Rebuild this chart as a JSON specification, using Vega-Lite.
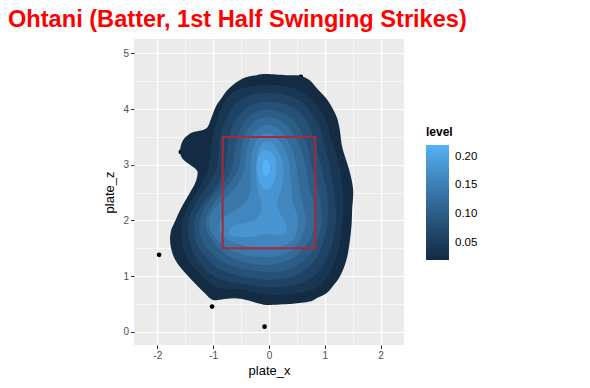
{
"$schema": "https://vega.github.io/schema/vega-lite/v6.json",
"width": 270, "height": 306,
"autosize": "none",
"padding": {"left": 134, "top": 39, "right": 186, "bottom": 43},
"background": "white",
"view": {"fill": "#EBEBEB", "stroke": null},
"title": {"text": "Ohtani (Batter, 1st Half Swinging Strikes)", "color": "red", "font": "Liberation Sans", "fontSize": 23.6, "fontWeight": "bold", "anchor": "start", "frame": "group", "dx": -126, "baseline": "alphabetic", "offset": -12},
"config": {
  "axis": {"domain": false, "grid": true, "gridColor": "white", "labelFont": "Liberation Sans", "labelFontSize": 10, "labelColor": "#4D4D4D", "tickColor": "#333333", "tickSize": 3.5, "labelPadding": 2, "titleFont": "Liberation Sans", "titleFontSize": 13, "titleFontWeight": "normal", "titleColor": "black"}
},
"encoding": {
  "x": {"field": "x", "type": "quantitative", "title": "plate_x", "scale": {"domain": [-2.42, 2.42], "nice": false, "zero": false},
        "axis": {"values": [-2,-1.5,-1,-0.5,0,0.5,1,1.5,2], "labelExpr": "datum.value % 1 === 0 ? toString(datum.value) : ''", "gridWidth": {"condition": {"test": "datum.value % 1 !== 0", "value": 0.6}, "value": 1.2}, "tickOpacity": {"condition": {"test": "datum.value % 1 !== 0", "value": 0}, "value": 1}, "titlePadding": 4}},
  "y": {"field": "y", "type": "quantitative", "title": "plate_z", "scale": {"domain": [-0.24, 5.26], "nice": false, "zero": false},
        "axis": {"values": [0,0.5,1,1.5,2,2.5,3,3.5,4,4.5,5], "labelExpr": "datum.value % 1 === 0 ? toString(datum.value) : ''", "gridWidth": {"condition": {"test": "datum.value % 1 !== 0", "value": 0.6}, "value": 1.2}, "tickOpacity": {"condition": {"test": "datum.value % 1 !== 0", "value": 0}, "value": 1}, "titlePadding": 6}}
},
"layer": [
  {
    "data": {"values": [
      {"x": 0.57, "y": 4.58}, {"x": -1.58, "y": 3.23}, {"x": -1.97, "y": 1.38}, {"x": -1.02, "y": 0.45}, {"x": -0.08, "y": 0.09}
    ]},
    "mark": {"type": "point", "filled": true, "color": "black", "size": 22, "opacity": 1}
  },
  {
    "data": {"values": [
{"p":1,"level":0.02,"x":-0.05,"y":4.63},{"p":1,"level":0.02,"x":0.31,"y":4.61},{"p":1,"level":0.02,"x":0.55,"y":4.60},{"p":1,"level":0.02,"x":0.73,"y":4.52},{"p":1,"level":0.02,"x":0.87,"y":4.36},{"p":1,"level":0.02,"x":1.02,"y":4.20},{"p":1,"level":0.02,"x":1.13,"y":4.03},{"p":1,"level":0.02,"x":1.22,"y":3.84},{"p":1,"level":0.02,"x":1.27,"y":3.62},{"p":1,"level":0.02,"x":1.31,"y":3.33},{"p":1,"level":0.02,"x":1.40,"y":3.03},{"p":1,"level":0.02,"x":1.47,"y":2.78},{"p":1,"level":0.02,"x":1.51,"y":2.51},{"p":1,"level":0.02,"x":1.49,"y":2.19},{"p":1,"level":0.02,"x":1.48,"y":1.92},{"p":1,"level":0.02,"x":1.44,"y":1.56},{"p":1,"level":0.02,"x":1.38,"y":1.26},{"p":1,"level":0.02,"x":1.27,"y":0.99},{"p":1,"level":0.02,"x":1.14,"y":0.81},{"p":1,"level":0.02,"x":1.03,"y":0.69},{"p":1,"level":0.02,"x":0.87,"y":0.61},{"p":1,"level":0.02,"x":0.73,"y":0.54},{"p":1,"level":0.02,"x":0.43,"y":0.50},{"p":1,"level":0.02,"x":0.19,"y":0.49},{"p":1,"level":0.02,"x":-0.05,"y":0.48},{"p":1,"level":0.02,"x":-0.20,"y":0.51},{"p":1,"level":0.02,"x":-0.41,"y":0.57},{"p":1,"level":0.02,"x":-0.62,"y":0.60},{"p":1,"level":0.02,"x":-0.85,"y":0.58},{"p":1,"level":0.02,"x":-1.01,"y":0.57},{"p":1,"level":0.02,"x":-1.15,"y":0.69},{"p":1,"level":0.02,"x":-1.30,"y":0.84},{"p":1,"level":0.02,"x":-1.46,"y":1.01},{"p":1,"level":0.02,"x":-1.60,"y":1.17},{"p":1,"level":0.02,"x":-1.71,"y":1.35},{"p":1,"level":0.02,"x":-1.77,"y":1.59},{"p":1,"level":0.02,"x":-1.76,"y":1.80},{"p":1,"level":0.02,"x":-1.69,"y":1.97},{"p":1,"level":0.02,"x":-1.57,"y":2.23},{"p":1,"level":0.02,"x":-1.42,"y":2.49},{"p":1,"level":0.02,"x":-1.32,"y":2.68},{"p":1,"level":0.02,"x":-1.28,"y":2.84},{"p":1,"level":0.02,"x":-1.31,"y":2.92},{"p":1,"level":0.02,"x":-1.46,"y":3.03},{"p":1,"level":0.02,"x":-1.57,"y":3.14},{"p":1,"level":0.02,"x":-1.59,"y":3.29},{"p":1,"level":0.02,"x":-1.53,"y":3.46},{"p":1,"level":0.02,"x":-1.38,"y":3.58},{"p":1,"level":0.02,"x":-1.20,"y":3.62},{"p":1,"level":0.02,"x":-1.10,"y":3.68},{"p":1,"level":0.02,"x":-1.03,"y":3.85},{"p":1,"level":0.02,"x":-0.95,"y":4.05},{"p":1,"level":0.02,"x":-0.85,"y":4.20},{"p":1,"level":0.02,"x":-0.71,"y":4.38},{"p":1,"level":0.02,"x":-0.47,"y":4.55},{"p":1,"level":0.02,"x":-0.22,"y":4.61},
{"p":2,"level":0.04,"x":-0.05,"y":4.43},{"p":2,"level":0.04,"x":0.3,"y":4.41},{"p":2,"level":0.04,"x":0.6,"y":4.3},{"p":2,"level":0.04,"x":0.85,"y":4.08},{"p":2,"level":0.04,"x":1.02,"y":3.8},{"p":2,"level":0.04,"x":1.1,"y":3.5},{"p":2,"level":0.04,"x":1.2,"y":3.2},{"p":2,"level":0.04,"x":1.28,"y":2.9},{"p":2,"level":0.04,"x":1.33,"y":2.5},{"p":2,"level":0.04,"x":1.32,"y":2.0},{"p":2,"level":0.04,"x":1.27,"y":1.6},{"p":2,"level":0.04,"x":1.18,"y":1.25},{"p":2,"level":0.04,"x":1.02,"y":0.95},{"p":2,"level":0.04,"x":0.8,"y":0.76},{"p":2,"level":0.04,"x":0.45,"y":0.68},{"p":2,"level":0.04,"x":0.1,"y":0.66},{"p":2,"level":0.04,"x":-0.2,"y":0.7},{"p":2,"level":0.04,"x":-0.55,"y":0.76},{"p":2,"level":0.04,"x":-0.9,"y":0.78},{"p":2,"level":0.04,"x":-1.1,"y":0.9},{"p":2,"level":0.04,"x":-1.3,"y":1.1},{"p":2,"level":0.04,"x":-1.48,"y":1.35},{"p":2,"level":0.04,"x":-1.57,"y":1.65},{"p":2,"level":0.04,"x":-1.55,"y":2.0},{"p":2,"level":0.04,"x":-1.42,"y":2.3},{"p":2,"level":0.04,"x":-1.25,"y":2.6},{"p":2,"level":0.04,"x":-1.1,"y":2.9},{"p":2,"level":0.04,"x":-1.05,"y":3.2},{"p":2,"level":0.04,"x":-1.0,"y":3.55},{"p":2,"level":0.04,"x":-0.9,"y":3.9},{"p":2,"level":0.04,"x":-0.75,"y":4.2},{"p":2,"level":0.04,"x":-0.5,"y":4.37},
{"p":3,"level":0.06,"x":-0.05,"y":4.29},{"p":3,"level":0.06,"x":0.3,"y":4.26},{"p":3,"level":0.06,"x":0.55,"y":4.15},{"p":3,"level":0.06,"x":0.75,"y":3.95},{"p":3,"level":0.06,"x":0.9,"y":3.7},{"p":3,"level":0.06,"x":0.98,"y":3.4},{"p":3,"level":0.06,"x":1.06,"y":3.1},{"p":3,"level":0.06,"x":1.12,"y":2.8},{"p":3,"level":0.06,"x":1.18,"y":2.4},{"p":3,"level":0.06,"x":1.2,"y":2.0},{"p":3,"level":0.06,"x":1.15,"y":1.65},{"p":3,"level":0.06,"x":1.05,"y":1.35},{"p":3,"level":0.06,"x":0.9,"y":1.1},{"p":3,"level":0.06,"x":0.65,"y":0.9},{"p":3,"level":0.06,"x":0.35,"y":0.82},{"p":3,"level":0.06,"x":0.0,"y":0.8},{"p":3,"level":0.06,"x":-0.3,"y":0.83},{"p":3,"level":0.06,"x":-0.6,"y":0.88},{"p":3,"level":0.06,"x":-0.9,"y":0.95},{"p":3,"level":0.06,"x":-1.15,"y":1.12},{"p":3,"level":0.06,"x":-1.33,"y":1.37},{"p":3,"level":0.06,"x":-1.44,"y":1.7},{"p":3,"level":0.06,"x":-1.44,"y":2.0},{"p":3,"level":0.06,"x":-1.32,"y":2.3},{"p":3,"level":0.06,"x":-1.12,"y":2.6},{"p":3,"level":0.06,"x":-0.95,"y":2.9},{"p":3,"level":0.06,"x":-0.9,"y":3.2},{"p":3,"level":0.06,"x":-0.88,"y":3.5},{"p":3,"level":0.06,"x":-0.78,"y":3.8},{"p":3,"level":0.06,"x":-0.6,"y":4.1},{"p":3,"level":0.06,"x":-0.35,"y":4.25},
{"p":4,"level":0.08,"x":-0.05,"y":4.13},{"p":4,"level":0.08,"x":0.25,"y":4.1},{"p":4,"level":0.08,"x":0.5,"y":3.98},{"p":4,"level":0.08,"x":0.68,"y":3.78},{"p":4,"level":0.08,"x":0.8,"y":3.5},{"p":4,"level":0.08,"x":0.88,"y":3.2},{"p":4,"level":0.08,"x":0.95,"y":2.9},{"p":4,"level":0.08,"x":1.02,"y":2.6},{"p":4,"level":0.08,"x":1.06,"y":2.3},{"p":4,"level":0.08,"x":1.05,"y":2.0},{"p":4,"level":0.08,"x":1.0,"y":1.7},{"p":4,"level":0.08,"x":0.9,"y":1.42},{"p":4,"level":0.08,"x":0.75,"y":1.2},{"p":4,"level":0.08,"x":0.5,"y":1.02},{"p":4,"level":0.08,"x":0.25,"y":0.95},{"p":4,"level":0.08,"x":0.0,"y":0.93},{"p":4,"level":0.08,"x":-0.3,"y":0.96},{"p":4,"level":0.08,"x":-0.6,"y":1.02},{"p":4,"level":0.08,"x":-0.88,"y":1.12},{"p":4,"level":0.08,"x":-1.1,"y":1.3},{"p":4,"level":0.08,"x":-1.28,"y":1.55},{"p":4,"level":0.08,"x":-1.34,"y":1.85},{"p":4,"level":0.08,"x":-1.3,"y":2.1},{"p":4,"level":0.08,"x":-1.15,"y":2.35},{"p":4,"level":0.08,"x":-0.95,"y":2.6},{"p":4,"level":0.08,"x":-0.8,"y":2.9},{"p":4,"level":0.08,"x":-0.76,"y":3.2},{"p":4,"level":0.08,"x":-0.72,"y":3.5},{"p":4,"level":0.08,"x":-0.6,"y":3.8},{"p":4,"level":0.08,"x":-0.4,"y":4.02},{"p":4,"level":0.08,"x":-0.25,"y":4.1},
{"p":5,"level":0.10,"x":-0.05,"y":3.99},{"p":5,"level":0.10,"x":0.2,"y":3.95},{"p":5,"level":0.10,"x":0.42,"y":3.82},{"p":5,"level":0.10,"x":0.58,"y":3.6},{"p":5,"level":0.10,"x":0.68,"y":3.35},{"p":5,"level":0.10,"x":0.75,"y":3.05},{"p":5,"level":0.10,"x":0.82,"y":2.75},{"p":5,"level":0.10,"x":0.9,"y":2.45},{"p":5,"level":0.10,"x":0.94,"y":2.15},{"p":5,"level":0.10,"x":0.93,"y":1.9},{"p":5,"level":0.10,"x":0.86,"y":1.62},{"p":5,"level":0.10,"x":0.74,"y":1.4},{"p":5,"level":0.10,"x":0.55,"y":1.22},{"p":5,"level":0.10,"x":0.3,"y":1.1},{"p":5,"level":0.10,"x":0.0,"y":1.07},{"p":5,"level":0.10,"x":-0.3,"y":1.1},{"p":5,"level":0.10,"x":-0.6,"y":1.16},{"p":5,"level":0.10,"x":-0.85,"y":1.27},{"p":5,"level":0.10,"x":-1.07,"y":1.45},{"p":5,"level":0.10,"x":-1.22,"y":1.7},{"p":5,"level":0.10,"x":-1.25,"y":1.95},{"p":5,"level":0.10,"x":-1.17,"y":2.2},{"p":5,"level":0.10,"x":-1.0,"y":2.45},{"p":5,"level":0.10,"x":-0.8,"y":2.7},{"p":5,"level":0.10,"x":-0.66,"y":2.95},{"p":5,"level":0.10,"x":-0.62,"y":3.25},{"p":5,"level":0.10,"x":-0.55,"y":3.55},{"p":5,"level":0.10,"x":-0.42,"y":3.8},{"p":5,"level":0.10,"x":-0.25,"y":3.94},
{"p":6,"level":0.12,"x":-0.05,"y":3.85},{"p":6,"level":0.12,"x":0.17,"y":3.81},{"p":6,"level":0.12,"x":0.36,"y":3.67},{"p":6,"level":0.12,"x":0.5,"y":3.45},{"p":6,"level":0.12,"x":0.6,"y":3.2},{"p":6,"level":0.12,"x":0.67,"y":2.9},{"p":6,"level":0.12,"x":0.72,"y":2.6},{"p":6,"level":0.12,"x":0.8,"y":2.3},{"p":6,"level":0.12,"x":0.82,"y":2.0},{"p":6,"level":0.12,"x":0.76,"y":1.72},{"p":6,"level":0.12,"x":0.62,"y":1.5},{"p":6,"level":0.12,"x":0.42,"y":1.32},{"p":6,"level":0.12,"x":0.15,"y":1.22},{"p":6,"level":0.12,"x":-0.15,"y":1.2},{"p":6,"level":0.12,"x":-0.45,"y":1.25},{"p":6,"level":0.12,"x":-0.72,"y":1.36},{"p":6,"level":0.12,"x":-0.95,"y":1.55},{"p":6,"level":0.12,"x":-1.1,"y":1.78},{"p":6,"level":0.12,"x":-1.14,"y":2.0},{"p":6,"level":0.12,"x":-1.05,"y":2.22},{"p":6,"level":0.12,"x":-0.88,"y":2.45},{"p":6,"level":0.12,"x":-0.68,"y":2.7},{"p":6,"level":0.12,"x":-0.54,"y":2.95},{"p":6,"level":0.12,"x":-0.5,"y":3.25},{"p":6,"level":0.12,"x":-0.43,"y":3.55},{"p":6,"level":0.12,"x":-0.28,"y":3.77},
{"p":7,"level":0.14,"x":-0.05,"y":3.72},{"p":7,"level":0.14,"x":0.13,"y":3.67},{"p":7,"level":0.14,"x":0.28,"y":3.52},{"p":7,"level":0.14,"x":0.4,"y":3.3},{"p":7,"level":0.14,"x":0.48,"y":3.05},{"p":7,"level":0.14,"x":0.52,"y":2.78},{"p":7,"level":0.14,"x":0.56,"y":2.5},{"p":7,"level":0.14,"x":0.62,"y":2.22},{"p":7,"level":0.14,"x":0.66,"y":1.98},{"p":7,"level":0.14,"x":0.6,"y":1.72},{"p":7,"level":0.14,"x":0.45,"y":1.5},{"p":7,"level":0.14,"x":0.22,"y":1.37},{"p":7,"level":0.14,"x":-0.1,"y":1.34},{"p":7,"level":0.14,"x":-0.42,"y":1.37},{"p":7,"level":0.14,"x":-0.7,"y":1.47},{"p":7,"level":0.14,"x":-0.92,"y":1.63},{"p":7,"level":0.14,"x":-1.06,"y":1.85},{"p":7,"level":0.14,"x":-1.06,"y":2.07},{"p":7,"level":0.14,"x":-0.92,"y":2.28},{"p":7,"level":0.14,"x":-0.7,"y":2.48},{"p":7,"level":0.14,"x":-0.53,"y":2.7},{"p":7,"level":0.14,"x":-0.44,"y":2.95},{"p":7,"level":0.14,"x":-0.4,"y":3.25},{"p":7,"level":0.14,"x":-0.32,"y":3.5},{"p":7,"level":0.14,"x":-0.18,"y":3.66},
{"p":8,"level":0.16,"x":-0.05,"y":3.57},{"p":8,"level":0.16,"x":0.1,"y":3.52},{"p":8,"level":0.16,"x":0.24,"y":3.35},{"p":8,"level":0.16,"x":0.34,"y":3.12},{"p":8,"level":0.16,"x":0.38,"y":2.88},{"p":8,"level":0.16,"x":0.4,"y":2.6},{"p":8,"level":0.16,"x":0.42,"y":2.35},{"p":8,"level":0.16,"x":0.5,"y":2.12},{"p":8,"level":0.16,"x":0.52,"y":1.92},{"p":8,"level":0.16,"x":0.45,"y":1.68},{"p":8,"level":0.16,"x":0.28,"y":1.55},{"p":8,"level":0.16,"x":0.0,"y":1.5},{"p":8,"level":0.16,"x":-0.3,"y":1.52},{"p":8,"level":0.16,"x":-0.58,"y":1.58},{"p":8,"level":0.16,"x":-0.8,"y":1.7},{"p":8,"level":0.16,"x":-0.9,"y":1.85},{"p":8,"level":0.16,"x":-0.86,"y":2.0},{"p":8,"level":0.16,"x":-0.68,"y":2.14},{"p":8,"level":0.16,"x":-0.45,"y":2.3},{"p":8,"level":0.16,"x":-0.34,"y":2.5},{"p":8,"level":0.16,"x":-0.33,"y":2.75},{"p":8,"level":0.16,"x":-0.33,"y":3.0},{"p":8,"level":0.16,"x":-0.3,"y":3.25},{"p":8,"level":0.16,"x":-0.2,"y":3.47},
{"p":9,"level":0.18,"x":-0.05,"y":3.42},{"p":9,"level":0.18,"x":0.07,"y":3.38},{"p":9,"level":0.18,"x":0.18,"y":3.22},{"p":9,"level":0.18,"x":0.25,"y":3.0},{"p":9,"level":0.18,"x":0.25,"y":2.75},{"p":9,"level":0.18,"x":0.2,"y":2.5},{"p":9,"level":0.18,"x":0.15,"y":2.3},{"p":9,"level":0.18,"x":0.2,"y":2.12},{"p":9,"level":0.18,"x":0.29,"y":1.97},{"p":9,"level":0.18,"x":0.31,"y":1.79},{"p":9,"level":0.18,"x":0.2,"y":1.73},{"p":9,"level":0.18,"x":-0.05,"y":1.76},{"p":9,"level":0.18,"x":-0.25,"y":1.71},{"p":9,"level":0.18,"x":-0.53,"y":1.7},{"p":9,"level":0.18,"x":-0.7,"y":1.74},{"p":9,"level":0.18,"x":-0.71,"y":1.83},{"p":9,"level":0.18,"x":-0.6,"y":1.92},{"p":9,"level":0.18,"x":-0.4,"y":1.96},{"p":9,"level":0.18,"x":-0.2,"y":2.05},{"p":9,"level":0.18,"x":-0.13,"y":2.25},{"p":9,"level":0.18,"x":-0.18,"y":2.45},{"p":9,"level":0.18,"x":-0.22,"y":2.7},{"p":9,"level":0.18,"x":-0.23,"y":2.97},{"p":9,"level":0.18,"x":-0.2,"y":3.22},{"p":9,"level":0.18,"x":-0.14,"y":3.36},
{"p":10,"level":0.20,"x":-0.05,"y":3.27},{"p":10,"level":0.20,"x":0.05,"y":3.22},{"p":10,"level":0.20,"x":0.12,"y":3.08},{"p":10,"level":0.20,"x":0.13,"y":2.9},{"p":10,"level":0.20,"x":0.1,"y":2.72},{"p":10,"level":0.20,"x":0.03,"y":2.58},{"p":10,"level":0.20,"x":-0.06,"y":2.55},{"p":10,"level":0.20,"x":-0.14,"y":2.62},{"p":10,"level":0.20,"x":-0.2,"y":2.8},{"p":10,"level":0.20,"x":-0.22,"y":3.0},{"p":10,"level":0.20,"x":-0.18,"y":3.17},{"p":10,"level":0.20,"x":-0.12,"y":3.25},
{"p":11,"level":0.22,"x":-0.06,"y":3.1},{"p":11,"level":0.22,"x":0.0,"y":3.05},{"p":11,"level":0.22,"x":0.02,"y":2.95},{"p":11,"level":0.22,"x":0.0,"y":2.84},{"p":11,"level":0.22,"x":-0.06,"y":2.8},{"p":11,"level":0.22,"x":-0.11,"y":2.86},{"p":11,"level":0.22,"x":-0.12,"y":2.97},{"p":11,"level":0.22,"x":-0.1,"y":3.06}
    ]},
    "mark": {"type": "line", "filled": true, "interpolate": "cardinal-closed", "strokeWidth": 0},
    "encoding": {
      "color": {"field": "level", "type": "quantitative",
        "scale": {"domain": [0.02, 0.22], "range": ["#132B43", "#56B1F7"], "interpolate": "lab"},
        "legend": {"title": "level", "orient": "none", "legendX": 292, "legendY": 88, "direction": "vertical", "gradientLength": 115, "gradientThickness": 23, "values": [0.05, 0.1, 0.15, 0.2], "format": ".2f", "titleFontSize": 12, "titleFont": "Liberation Sans", "titleFontWeight": "bold", "titleColor": "black", "titlePadding": 6, "labelFont": "Liberation Sans", "labelFontSize": 11.5, "labelColor": "black", "labelOffset": 6, "gradientStrokeWidth": 0}},
      "detail": {"field": "p", "type": "nominal"},
      "order": {"value": null}
    }
  },
  {
    "data": {"values": [{"x": -0.83, "x2": 0.83, "y": 1.5, "y2": 3.5}]},
    "mark": {"type": "rect", "fill": null, "fillOpacity": 0, "stroke": "#A9283D", "strokeWidth": 2},
    "encoding": {"x2": {"field": "x2"}, "y2": {"field": "y2"}}
  }
]
}
